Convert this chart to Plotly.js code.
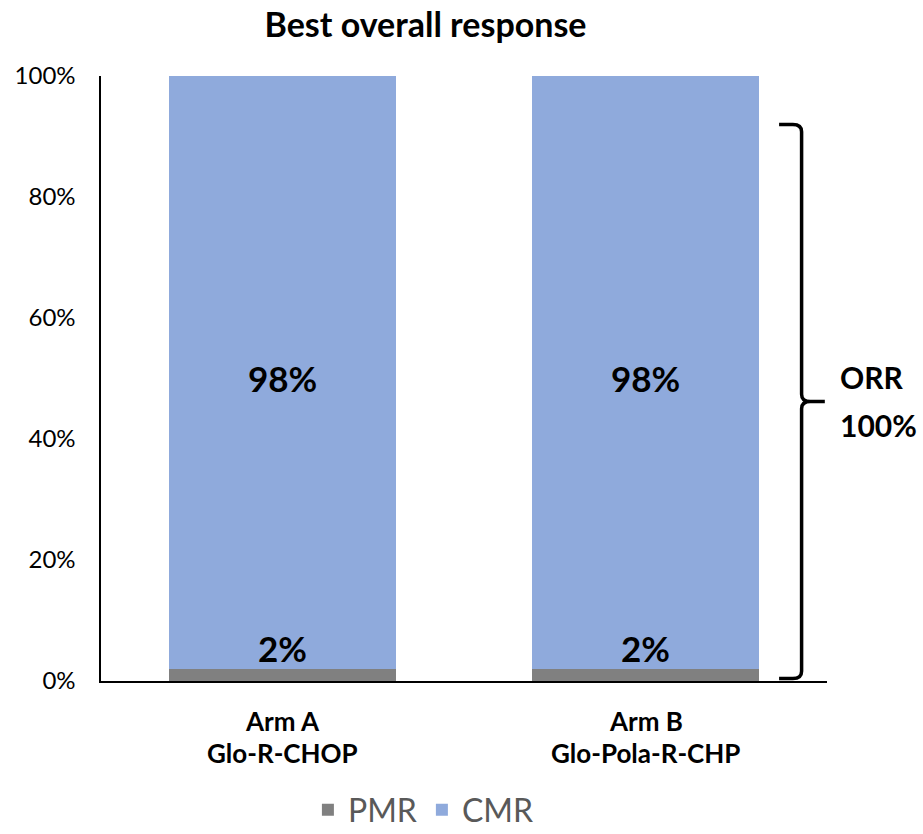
<!DOCTYPE html>
<html>
<head>
<meta charset="utf-8">
<script src="https://cdn.plot.ly/plotly-3.0.1.min.js"></script>
<style>html,body{margin:0;padding:0;background:#fff;}#chart{width:923px;height:834px;}</style>
</head>
<body>
<div id="chart"></div>
<script>
var armNames = ["Arm A", "Arm B"];
var regimens = ["Glo-R-CHOP", "Glo-Pola-R-CHP"];
var pmr = [2, 2];
var cmr = [98, 98];
var orrLabel = ["ORR", "100%"];
var yTicks = [0, 20, 40, 60, 80, 100];

var cats = armNames.map(function (a, i) { return a + " " + regimens[i]; });
var font = "Lato, 'Open Sans', sans-serif";

var traces = [
  { type: "bar", name: "PMR", x: cats, y: pmr, marker: { color: "#808080" }, hoverinfo: "skip" },
  { type: "bar", name: "CMR", x: cats, y: cmr, marker: { color: "#8FAADC" }, hoverinfo: "skip" }
];

var annotations = [];
cats.forEach(function (c, i) {
  annotations.push({ xref: "x", yref: "y", x: c, y: pmr[i] + cmr[i] / 2, yanchor: "middle", text: "<b>" + cmr[i] + "%</b>",
    showarrow: false, font: { family: font, size: 35, color: "#000" }, yshift: -6 });
  annotations.push({ xref: "x", yref: "y", x: c, y: pmr[i], yanchor: "middle", text: "<b>" + pmr[i] + "%</b>",
    showarrow: false, font: { family: font, size: 35, color: "#000" }, yshift: 21 });
  annotations.push({ xref: "x", yref: "paper", x: c, y: -0.066, yanchor: "middle", text: "<b>" + armNames[i] + "</b>",
    showarrow: false, font: { family: font, size: 26, color: "#000" } });
  annotations.push({ xref: "x", yref: "paper", x: c, y: -0.119, yanchor: "middle", text: "<b>" + regimens[i] + "</b>",
    showarrow: false, font: { family: font, size: 26, color: "#000" } });
});

// curly brace (paper x, data y)
var xl = 0.934, xv = 0.965, xt = 0.997, yTop = 92, yMid = 46.2, yBot = 0.4, r = 0.012, ry = 1.2;
annotations.push({ xref: "paper", yref: "y", x: 1.015, y: yMid, xanchor: "left", yanchor: "middle",
  text: "<b>" + orrLabel[0] + "</b>", showarrow: false, yshift: 24,
  font: { family: font, size: 30, color: "#000" } });
annotations.push({ xref: "paper", yref: "y", x: 1.015, y: yMid, xanchor: "left", yanchor: "middle",
  text: "<b>" + orrLabel[1] + "</b>", showarrow: false, yshift: -24,
  font: { family: font, size: 30, color: "#000" } });

var bracePath =
  "M " + xl + "," + yTop +
  " L " + (xv - r) + "," + yTop +
  " Q " + xv + "," + yTop + " " + xv + "," + (yTop - ry) +
  " L " + xv + "," + (yMid + ry) +
  " Q " + xv + "," + yMid + " " + (xv + r) + "," + yMid +
  " L " + xt + "," + yMid +
  " M " + (xv + r) + "," + yMid +
  " Q " + xv + "," + yMid + " " + xv + "," + (yMid - ry) +
  " L " + xv + "," + (yBot + ry) +
  " Q " + xv + "," + yBot + " " + (xv - r) + "," + yBot +
  " L " + xl + "," + yBot;

var layout = {
  width: 923, height: 834,
  paper_bgcolor: "#ffffff", plot_bgcolor: "#ffffff",
  margin: { l: 101, r: 96, t: 76, b: 153, autoexpand: false },
  barmode: "stack", bargap: 0.377,
  title: { text: "<b>Best overall response</b>", x: 0.461, xanchor: "center", xref: "container",
    y: 0.97, yanchor: "middle", font: { family: font, size: 34, color: "#000" } },
  xaxis: { showticklabels: false, showline: true, linecolor: "#000", linewidth: 1.6, ticks: "",
    showgrid: false, zeroline: false, fixedrange: true },
  yaxis: { range: [0, 100], tickvals: yTicks, ticktext: yTicks.map(function (v) { return v + "%"; }),
    showline: true, linecolor: "#000", linewidth: 1.6, ticks: "", showgrid: false, zeroline: false,
    ticklabelstandoff: 19, tickfont: { family: font, size: 24, color: "#000" }, fixedrange: true },
  showlegend: true,
  legend: { orientation: "h", x: 0.285, xanchor: "left", y: -0.213, yanchor: "middle",
    font: { family: font, size: 32, color: "#595959" }, traceorder: "normal", itemwidth: 30 },
  annotations: annotations,
  shapes: [{ type: "path", xref: "paper", yref: "y", path: bracePath, line: { color: "#000", width: 3.5 } }]
};

Plotly.newPlot("chart", traces, layout, { displayModeBar: false, staticPlot: true });
</script>
</body>
</html>
